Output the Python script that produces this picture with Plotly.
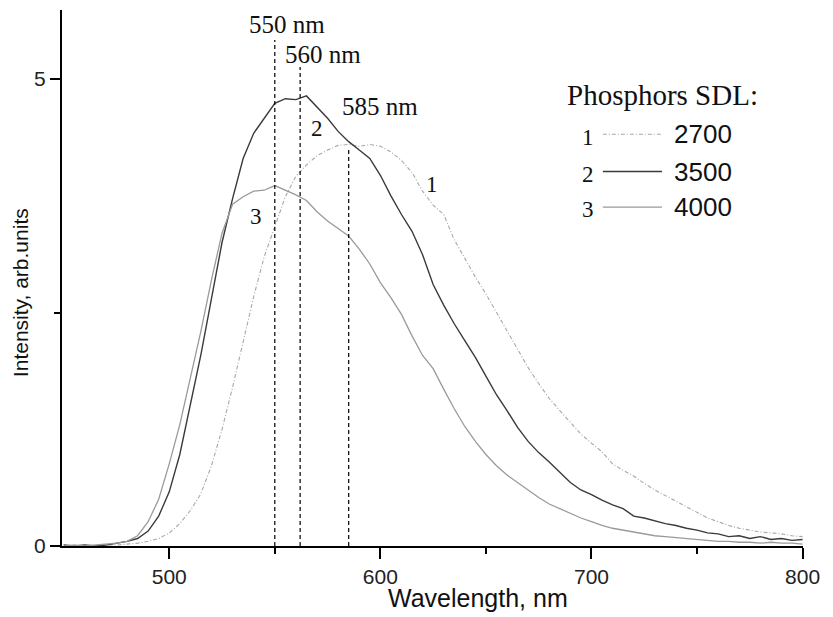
import plotly.graph_objects as go

wavelength = [450, 455, 460, 465, 470, 475, 480, 485, 490, 495,
              500, 505, 510, 515, 520, 525, 530, 535, 540, 545,
              550, 555, 560, 565, 570, 575, 580, 585, 590, 595,
              600, 605, 610, 615, 620, 625, 630, 635, 640, 645,
              650, 655, 660, 665, 670, 675, 680, 685, 690, 695,
              700, 705, 710, 715, 720, 725, 730, 735, 740, 745,
              750, 755, 760, 765, 770, 775, 780, 785, 790, 795, 800]

sdl_2700 = [0.00, 0.01, 0.00, 0.00, 0.01, 0.01, 0.02, 0.03, 0.05, 0.08,
            0.14, 0.24, 0.38, 0.56, 0.86, 1.25, 1.70, 2.18, 2.67, 3.10,
            3.42, 3.74, 3.96, 4.08, 4.18, 4.24, 4.29, 4.30, 4.28, 4.30,
            4.28, 4.22, 4.13, 4.00, 3.80, 3.65, 3.55, 3.28, 3.08, 2.88,
            2.70, 2.50, 2.31, 2.10, 1.91, 1.74, 1.58, 1.45, 1.32, 1.20,
            1.10, 1.01, 0.88, 0.81, 0.75, 0.67, 0.60, 0.54, 0.48, 0.42,
            0.36, 0.30, 0.26, 0.22, 0.19, 0.17, 0.15, 0.14, 0.13, 0.11, 0.10]

sdl_3500 = [0.01, 0.00, 0.01, 0.00, 0.01, 0.03, 0.05, 0.08, 0.16, 0.32,
            0.58, 0.98, 1.50, 2.05, 2.65, 3.25, 3.72, 4.15, 4.42, 4.58,
            4.74, 4.79, 4.78, 4.82, 4.70, 4.58, 4.44, 4.33, 4.24, 4.15,
            3.97, 3.75, 3.55, 3.37, 3.12, 2.80, 2.58, 2.38, 2.20, 2.02,
            1.82, 1.62, 1.45, 1.27, 1.12, 1.00, 0.90, 0.79, 0.68, 0.60,
            0.55, 0.49, 0.44, 0.40, 0.32, 0.30, 0.27, 0.24, 0.22, 0.19,
            0.17, 0.14, 0.13, 0.10, 0.11, 0.08, 0.10, 0.07, 0.08, 0.06, 0.07]

sdl_4000 = [0.00, 0.01, 0.00, 0.01, 0.02, 0.03, 0.05, 0.11, 0.26, 0.50,
            0.88, 1.30, 1.80, 2.30, 2.85, 3.35, 3.66, 3.74, 3.80, 3.81,
            3.86, 3.81, 3.76, 3.70, 3.58, 3.48, 3.40, 3.32, 3.18, 3.02,
            2.82, 2.66, 2.48, 2.25, 2.04, 1.90, 1.68, 1.47, 1.28, 1.12,
            0.98, 0.86, 0.76, 0.68, 0.60, 0.52, 0.45, 0.40, 0.35, 0.30,
            0.26, 0.22, 0.19, 0.17, 0.15, 0.13, 0.11, 0.10, 0.09, 0.08,
            0.07, 0.06, 0.05, 0.05, 0.04, 0.04, 0.03, 0.04, 0.03, 0.03, 0.02]

series_names = ["2700", "3500", "4000"]
series_ids = ["1", "2", "3"]
peak_labels = ["550 nm", "560 nm", "585 nm"]
peak_lines = [550, 562, 585]
peak_tops = [5.42, 5.13, 4.27]
peak_label_pos = [(555.8, 5.58), (572.8, 5.26), (599.8, 4.71)]
curve_label_pos = [(624.4, 3.87), (569.8, 4.47), (541.1, 3.53)]

colors = ["#a8a8a8", "#3a3a3a", "#9a9a9a"]
dashes = ["4px,2px,1px,2px", "solid", "solid"]
widths = [1.1, 1.4, 1.3]
data = [sdl_2700, sdl_3500, sdl_4000]

fig = go.Figure()
for name, ys, c, d, w in zip(series_names, data, colors, dashes, widths):
    fig.add_trace(go.Scatter(x=wavelength, y=ys, mode="lines", name=name,
                             line=dict(color=c, dash=d, width=w),
                             showlegend=False))

serif = "Liberation Serif, Times New Roman, serif"
sans = "Liberation Sans, Arial, sans-serif"

# vertical peak lines
for xv, top in zip(peak_lines, peak_tops):
    fig.add_shape(type="line", x0=xv, x1=xv, y0=0, y1=top, xref="x", yref="y",
                  line=dict(color="black", width=1.2, dash="4px,3px"))

for lab, (lx, ly) in zip(peak_labels, peak_label_pos):
    fig.add_annotation(x=lx, y=ly, text=lab, showarrow=False, xref="x", yref="y",
                       font=dict(family=serif, size=25, color="#111"))

for lab, (lx, ly) in zip(series_ids, curve_label_pos):
    fig.add_annotation(x=lx, y=ly, text=lab, showarrow=False, xref="x", yref="y",
                       font=dict(family=serif, size=23, color="#111"))

# custom legend
fig.add_annotation(x=687.4, y=4.83, text="Phosphors SDL:", showarrow=False,
                   xref="x", yref="y", xanchor="left",
                   font=dict(family=serif, size=29, color="#111"))
legend_rows = [4.41, 4.01, 3.63]
for sid, name, c, d, w, ry in zip(series_ids, series_names, colors, dashes, widths, legend_rows):
    fig.add_annotation(x=698.3, y=ry - 0.03, text=sid, showarrow=False, xref="x", yref="y",
                       font=dict(family=serif, size=23, color="#111"))
    fig.add_shape(type="line", x0=705.4, x1=733.4, y0=ry, y1=ry, xref="x", yref="y",
                  line=dict(color=c, width=w, dash=d))
    fig.add_annotation(x=738.1, y=ry, text=name, showarrow=False, xref="x", yref="y",
                       xanchor="left", font=dict(family=sans, size=26, color="#111"))

# axis titles as annotations (paper coords)
fig.add_annotation(x=0.561, y=-0.0976, xref="paper", yref="paper", text="Wavelength, nm",
                   showarrow=False, yanchor="middle",
                   font=dict(family=sans, size=25, color="#111"))
fig.add_annotation(x=-0.0567, y=0.4736, xref="paper", yref="paper", text="Intensity, arb.units",
                   showarrow=False, textangle=-90, xanchor="center", yanchor="middle",
                   font=dict(family=sans, size=21, color="#111"))

fig.update_xaxes(range=[449.2, 800.2], tickvals=[500, 600, 700, 800],
                 ticks="outside", ticklen=11, tickwidth=2, tickcolor="black",
                 showline=True, linecolor="black", linewidth=2,
                 showgrid=False, zeroline=False, automargin=False,
                 minor=dict(tickvals=[550, 650, 750], ticks="outside", ticklen=6,
                            tickwidth=2, tickcolor="black"),
                 tickfont=dict(family=sans, size=21, color="#222"))
fig.update_yaxes(range=[0, 5.74], tickvals=[0, 5],
                 ticks="outside", ticklen=10, tickwidth=2, tickcolor="black",
                 showline=True, linecolor="black", linewidth=2,
                 showgrid=False, zeroline=False, automargin=False,
                 minor=dict(tickvals=[2.5], ticks="outside", ticklen=6,
                            tickwidth=2, tickcolor="black"),
                 tickfont=dict(family=sans, size=21, color="#222"))

# the page adds ~8px body margin, so shift the layout up/left accordingly
fig.update_layout(width=833, height=617, plot_bgcolor="white", paper_bgcolor="white",
                  margin=dict(l=54, r=38, t=2, b=79, autoexpand=False), showlegend=False)

fig.write_html("out.html")
